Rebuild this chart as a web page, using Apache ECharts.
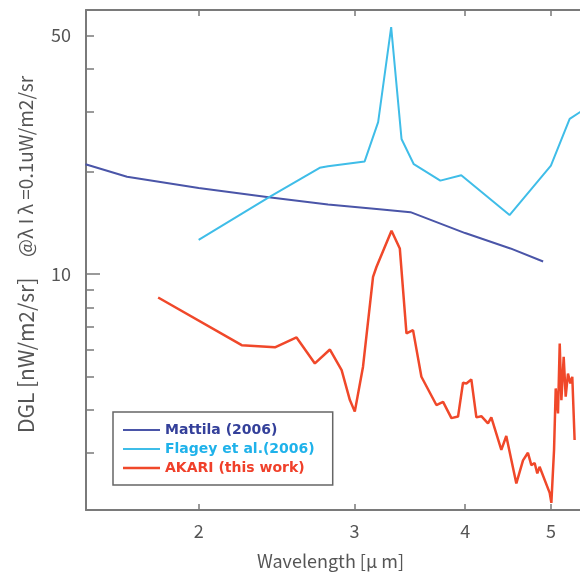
<!DOCTYPE html>
<html>
<head>
<meta charset="utf-8">
<script src="https://cdn.jsdelivr.net/npm/echarts@6/dist/echarts.min.js"></script>
<style>
  html, body { margin: 0; padding: 0; background: #fff; }
  #chart { width: 580px; height: 574px; }
</style>
</head>
<body>
<div id="chart"></div>
<script>
// wavelength [um] and DGL values
var mattilaWave = [1.49, 1.66, 2.0, 2.4, 2.8, 3.2, 3.47, 4.0, 4.5, 4.9];
var mattilaVal = [21.0, 19.3, 17.9, 16.8, 16.0, 15.5, 15.2, 13.2, 11.9, 10.9];

var flageyWave = [2.0, 2.4, 2.74, 2.8, 3.08, 3.19, 3.30, 3.39, 3.50, 3.75, 3.96, 4.49, 5.0, 5.25, 5.39, 5.6];
var flageyVal = [12.6, 16.8, 20.5, 20.7, 21.4, 27.9, 52.9, 24.9, 21.0, 18.8, 19.5, 14.9, 20.8, 28.5, 29.8, 31.0];

var akariWave = [1.80, 2.237, 2.439, 2.580, 2.706, 2.814, 2.901, 2.964, 3.002, 3.067,
  3.148, 3.176, 3.303, 3.375, 3.434, 3.493, 3.570, 3.712, 3.777, 3.860,
  3.927, 3.978, 4.013, 4.065, 4.119, 4.172, 4.245, 4.282, 4.395, 4.452,
  4.570, 4.650, 4.710, 4.752, 4.793, 4.826, 4.855, 4.984, 5.006, 5.041,
  5.063, 5.093, 5.116, 5.138, 5.169, 5.196, 5.227, 5.259, 5.286, 5.318];
var akariVal = [8.55, 6.20, 6.11, 6.53, 5.48, 6.02, 5.24, 4.28, 3.96, 5.36,
  9.82, 10.5, 13.4, 11.9, 6.71, 6.86, 5.01, 4.14, 4.23, 3.79,
  3.83, 4.81, 4.79, 4.92, 3.81, 3.84, 3.66, 3.81, 3.06, 3.36,
  2.44, 2.85, 3.00, 2.76, 2.80, 2.61, 2.73, 2.29, 2.14, 3.06,
  4.63, 3.91, 6.27, 4.28, 5.73, 4.38, 5.12, 4.79, 5.01, 3.27];

var xTicks = [2, 3, 4, 5];
var yMinorTicks = [3, 4, 5, 6, 7, 8, 9, 20, 30, 40, 50];
var yLongTicks = [10];
var yLabels = [10, 50];

var seriesNames = ['Mattila (2006)', 'Flagey et al.(2006)', 'AKARI (this work)'];
var seriesColors = ['#4a55a8', '#3fbde8', '#f0482a'];
var legendTextColors = ['#34409a', '#1fb2ea', '#f0402a'];
var lineWidths = [2, 2, 2.5];

function zip(a, b) {
  var out = [];
  for (var i = 0; i < a.length; i++) out.push([a[i], b[i]]);
  return out;
}

var axisGray = '#7a7a7a';
var labelGray = '#555';
var fontFam = '"Noto Sans CJK JP", "Noto Sans", sans-serif';

var xRange = { min: 1.492, max: 6 };
var yRange = { min: 2.04, max: 59.4 };

var myChart = echarts.init(document.getElementById('chart'), null, { renderer: 'canvas' });

var option = {
  backgroundColor: '#fff',
  animation: false,
  grid: { left: 86, top: 10, width: 535, height: 500, outerBoundsMode: 'none' },
  legend: {
    orient: 'vertical',
    left: 113,
    top: 412,
    padding: [11, 18, 10, 10],
    itemWidth: 37,
    itemHeight: 14,
    itemGap: 5,
    borderColor: '#666',
    borderWidth: 1.5,
    data: seriesNames.map(function (n, i) {
      return {
        name: n,
        icon: 'path://M0,0H37V' + lineWidths[i] + 'H0Z',
        textStyle: { color: legendTextColors[i] }
      };
    }),
    textStyle: { fontSize: 14, fontWeight: 'bold', fontFamily: '"DejaVu Sans", sans-serif' }
  },
  xAxis: [
    {
      type: 'log', position: 'bottom', min: xRange.min, max: xRange.max,
      axisLine: { lineStyle: { color: axisGray, width: 2 } },
      axisTick: { inside: true, length: 6, customValues: xTicks, lineStyle: { color: axisGray, width: 1.5 } },
      axisLabel: { customValues: xTicks, margin: 12, color: labelGray, fontSize: 18, fontFamily: fontFam },
      splitLine: { show: false },
      minorTick: { show: false }
    },
    {
      type: 'log', position: 'top', min: xRange.min, max: xRange.max,
      axisLine: { lineStyle: { color: axisGray, width: 2 } },
      axisTick: { inside: true, length: 6, customValues: xTicks, lineStyle: { color: axisGray, width: 1.5 } },
      axisLabel: { show: false },
      splitLine: { show: false }
    }
  ],
  yAxis: [
    {
      type: 'log', position: 'left', min: yRange.min, max: yRange.max,
      axisLine: { lineStyle: { color: axisGray, width: 2 } },
      axisTick: { inside: true, length: 8, customValues: yMinorTicks, lineStyle: { color: axisGray, width: 1.5 } },
      axisLabel: { customValues: yLabels, margin: 15, color: labelGray, fontSize: 18, fontFamily: fontFam },
      splitLine: { show: false }
    },
    {
      type: 'log', position: 'left', min: yRange.min, max: yRange.max,
      axisLine: { show: false },
      axisTick: { inside: true, length: 14, customValues: yLongTicks, lineStyle: { color: axisGray, width: 1.5 } },
      axisLabel: { show: false },
      splitLine: { show: false }
    }
  ],
  series: seriesNames.map(function (n, i) {
    var data = [zip(mattilaWave, mattilaVal), zip(flageyWave, flageyVal), zip(akariWave, akariVal)][i];
    return {
      name: n, type: 'line', symbol: 'none', clip: true,
      data: data,
      lineStyle: { color: seriesColors[i], width: lineWidths[i] },
      itemStyle: { color: seriesColors[i] }
    };
  }),
  graphic: [
    {
      type: 'text', x: 257, y: 561,
      style: { text: 'Wavelength [μ m]', fill: labelGray, font: '18px ' + fontFam, verticalAlign: 'middle' }
    },
    {
      type: 'text', x: 26, y: 433, rotation: Math.PI / 2,
      style: { text: 'DGL [nW/m2/sr]', fill: labelGray, font: '21px ' + fontFam, verticalAlign: 'middle' }
    },
    {
      type: 'text', x: 26, y: 257, rotation: Math.PI / 2,
      style: { text: '@λ I λ =0.1uW/m2/sr', fill: labelGray, font: '19px ' + fontFam, verticalAlign: 'middle' }
    }
  ]
};

option && myChart.setOption(option);
</script>
</body>
</html>
